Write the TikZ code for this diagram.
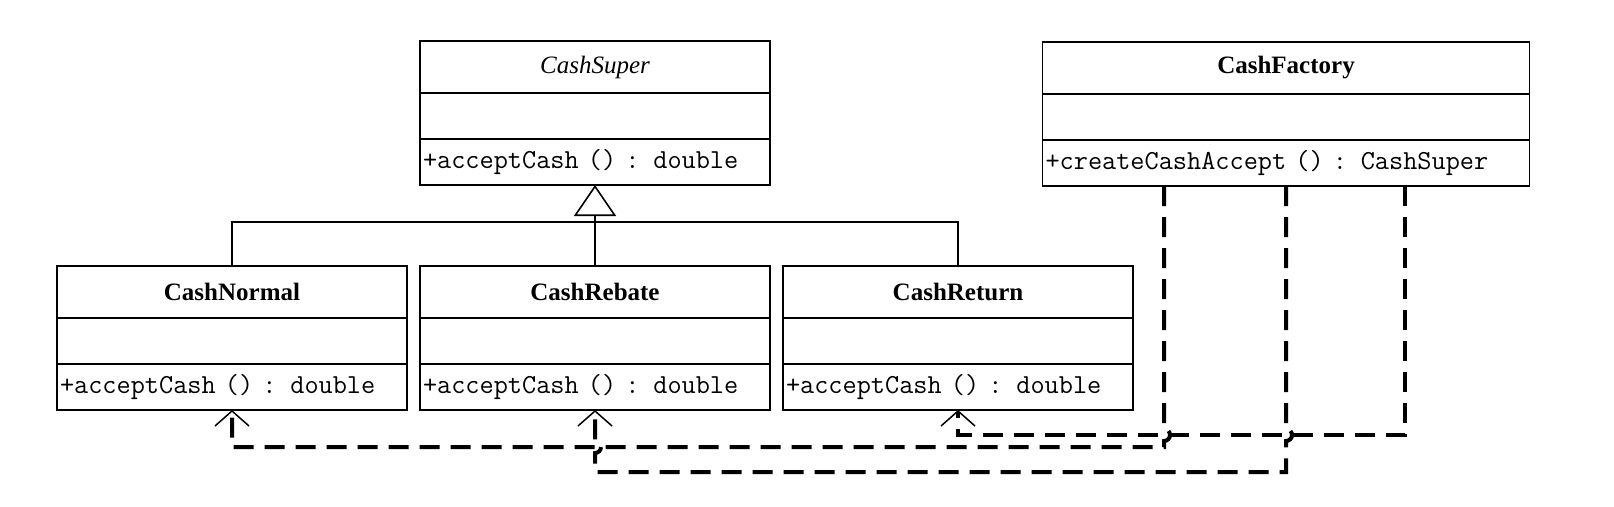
\documentclass[tikz,border=0pt]{standalone}
\usepackage{fontspec}
\setmainfont{Liberation Serif}
\usepackage{tikz}
\usetikzlibrary{arrows.meta}
\usetikzlibrary{calc}
\usetikzlibrary{positioning}

\begin{document}
\begin{tikzpicture}[x=1pt, y=-1pt,
                    outer sep=0pt,
                    node distance=0pt,
                    box/.style={draw, line width=1.6pt, minimum width=350pt, inner sep=0pt},
                    head/.style={box, minimum height=52pt, font=\fontsize{25}{28}\selectfont},
                    attr/.style={box, minimum height=46pt},
                    ops/.style={box, minimum height=46pt, text width=344pt, align=left,
                                font=\ttfamily\fontsize{27.5}{30}\selectfont},
                    gen/.style={line width=1.2pt},
                    dep/.style={line width=4pt, dash pattern=on 20pt off 11pt,
                                -{Straight Barb[length=15pt,width=34pt,line width=1.5pt]}}
                    %hop radius is 6
                    ]
  \useasboundingbox (0,0) rectangle (1614,506);

  \node[head] (super) at (595,67) {\textit{CashSuper}};
  \node[attr, below=of super] (super-a) {};
  \node[ops, below=of super-a] (super-o) {+acceptCash () : double};

  \node[head, minimum width=487pt] (factory) at (1286,68) {\textbf{CashFactory}};
  \node[attr, minimum width=487pt, below=of factory] (factory-a) {};
  \node[ops, minimum width=487pt, text width=481pt, below=of factory-a] (factory-o) {+createCashAccept () : CashSuper};

  \node[head, below=81pt of super-o] (rebate) {\textbf{CashRebate}};
  \node[attr, below=of rebate] (rebate-a) {};
  \node[ops, below=of rebate-a] (rebate-o) {+acceptCash () : double};

  \node[head, left=13pt of rebate] (normal) {\textbf{CashNormal}};
  \node[attr, below=of normal] (normal-a) {};
  \node[ops, below=of normal-a] (normal-o) {+acceptCash () : double};

  \node[head, right=13pt of rebate] (return) {\textbf{CashReturn}};
  \node[attr, below=of return] (return-a) {};
  \node[ops, below=of return-a] (return-o) {+acceptCash () : double};

  \coordinate (bar) at (0,222);
  \draw[gen] (normal.north) -- (normal.north |- bar) -- (return.north |- bar) -- (return.north);
  \draw[gen, -{Triangle[open,length=31pt,width=42pt,line width=1.6pt]}] (rebate.north) -- (super-o.south);

  \coordinate (f1) at ([xshift=-122pt]factory-o.south);
  \coordinate (f2) at (factory-o.south);
  \coordinate (f3) at ([xshift=119pt]factory-o.south);
  \coordinate (lane1) at (0,447);
  \coordinate (lane2) at (0,472);
  \coordinate (lane3) at (0,435);

  \draw[dep] (f1) -- ($(f1 |- lane3)+(0,-6)$) arc[start angle=-90, end angle=90, radius=6]
             -- (f1 |- lane1) -- (normal-o.south |- lane1) -- (normal-o.south);
  \draw[dep] (f2) -- ($(f2 |- lane3)+(0,-6)$) arc[start angle=-90, end angle=90, radius=6]
             -- (f2 |- lane2) -- (rebate-o.south |- lane2)
             -- ($(rebate-o.south |- lane1)+(0,6)$) arc[start angle=90, end angle=-90, radius=6]
             -- (rebate-o.south);
  \draw[dep] (f3) -- (f3 |- lane3) -- (return-o.south |- lane3) -- (return-o.south);
\end{tikzpicture}
\end{document}
